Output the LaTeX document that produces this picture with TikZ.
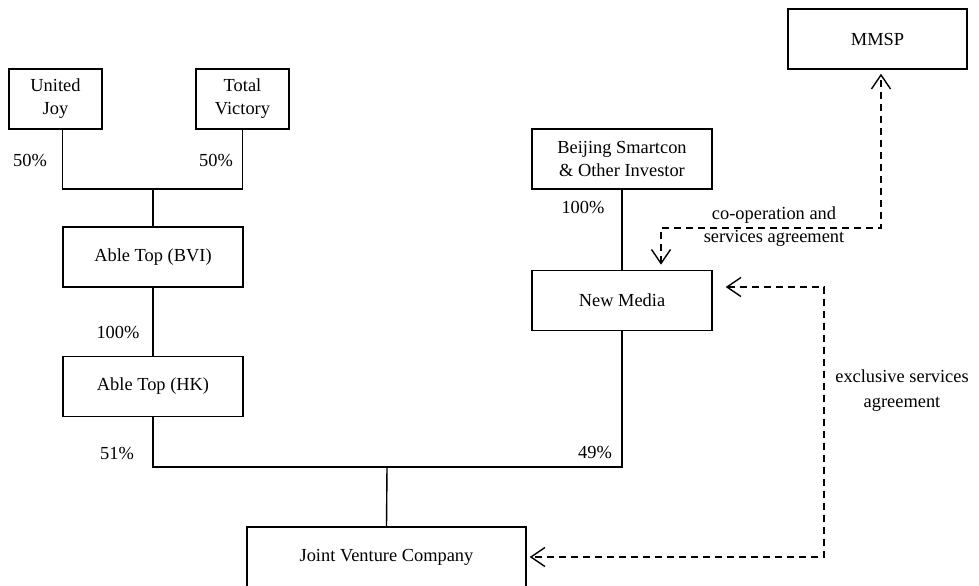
\documentclass[tikz,border=0pt]{standalone}
\usepackage{fontspec}
\setmainfont{Liberation Serif}
\usepackage{tikz}
\usetikzlibrary{positioning}
\usetikzlibrary{arrows.meta}
\tikzset{
holder/.style={rectangle, draw, line width=0.7pt, text=black, align=center, minimum height=30pt},
share/.style={rectangle, text=black},
link/.style={line width=0.7pt},
agreement/.style={draw, line width=0.7pt, dash pattern=on 3.5pt off 2.5pt, {Straight Barb[length=7pt,width=9.5pt]}-{Straight Barb[length=7pt,width=9.5pt]}},
note/.style={rectangle, align=center, text=black}
}

\begin{document}
\begin{tikzpicture}[x=0.5pt, y=-0.5pt, every node/.style={font=\fontsize{9.2}{11.5}\selectfont}]
    \useasboundingbox (0,0) rectangle (979,585);
    % shareholders and companies
    \node[holder, minimum width=46.5pt] (united_joy) at (55.5,99) {United\\Joy};
    \node[holder, minimum width=46.5pt] (total_victory) at (242.5,99) {Total\\Victory};
    \node[holder, minimum width=90pt] (able_bvi) at (153,257) {Able Top (BVI)};
    \node[holder, minimum width=90pt] (able_hk) [below=34pt of able_bvi] {Able Top (HK)};
    \node[holder, minimum width=90pt] (beijing) at (622,159) {Beijing Smartcon\\\& Other Investor};
    \node[holder, minimum width=90pt] (new_media) [below=40pt of beijing] {New Media};
    \node[holder, minimum width=89.5pt] (mmsp) at (877.5,39) {MMSP};
    \node[holder, minimum width=139.5pt] (jvc) at (386.5,557) {Joint Venture Company};
    % ownership lines
    \coordinate (top_join) at (153,189);
    \coordinate (bottom_join) at (387,467);
    \draw[link] (united_joy.south -| able_bvi.west) |- (top_join) -| (total_victory.south);
    \draw[link] (top_join) -- (able_bvi.north);
    \draw[link] (able_bvi) -- (able_hk);
    \draw[link] (able_hk.south) |- (bottom_join) -| (new_media.south);
    \draw[link] (bottom_join) -- (jvc.north);
    \draw[link] (beijing) -- (new_media);
    \node[share] (uj_share) at (30,160) {50\%};
    \node[share] (tv_share) at (216,160) {50\%};
    \node[share] (bvi_share) at (118,332) {100\%};
    \node[share] (hk_share) at (117,453) {51\%};
    \node[share] (nm_share) at (595,452) {49\%};
    \node[share] (bj_share) at (583,207) {100\%};
    % agreements
    \coordinate (coop_left) at (661,228);
    \coordinate (coop_right) at (881,228);
    \draw[agreement, shorten <=2.5pt, shorten >=2pt] (new_media.north -| coop_left) |- (coop_right) -- (mmsp.south -| coop_right);
    \node[note] (coop_label) at (774,226.5) {co-operation and\\services agreement};
    \coordinate (excl_top) at (824,287);
    \coordinate (excl_bottom) at (824,557);
    \draw[agreement, shorten <=6.5pt, shorten >=1.5pt] (new_media.east |- excl_top) -- (excl_top) -- (excl_bottom) -- (jvc.east);
    \node[note, font=\fontsize{9.2}{12.5}\selectfont] (excl_label) at (902,391) {exclusive services\\agreement};
\end{tikzpicture}
\end{document}
